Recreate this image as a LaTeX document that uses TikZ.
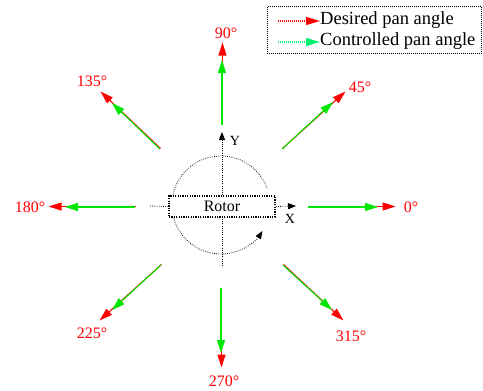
\documentclass[tikz,border=0pt]{standalone}
\usepackage{fontspec}
\setmainfont{Liberation Serif}
\usetikzlibrary{arrows.meta}
\definecolor{desred}{RGB}{255,0,0}
\definecolor{ctlgreen}{RGB}{0,230,0}
\definecolor{leggreen}{RGB}{0,240,110}
\begin{document}
\begin{tikzpicture}[x=1pt,y=-1pt,
  des/.style={draw=desred, line width=1.1pt, -{Triangle[length=13pt,width=8pt]}},
  ctl/.style={draw=ctlgreen, line width=1.1pt, -{Triangle[length=13pt,width=8pt]}},
  lbl/.style={text=desred, font=\fontsize{16}{18}\selectfont, inner sep=0pt},
  axline/.style={dash pattern=on 0.8pt off 1.4pt, line width=0.8pt},
  axarrow/.style={axline, -{Triangle[length=8pt,width=6pt]}},
  legtext/.style={font=\fontsize{18.5}{20}\selectfont, anchor=west, inner sep=0pt},
  axlbl/.style={font=\fontsize{14}{16}\selectfont, inner sep=0pt}
]
\useasboundingbox (0,0) rectangle (483,391);

% axes and rotation arc
\coordinate (xl) at (150,206);
\coordinate (xr) at (296,206);
\coordinate (yt) at (222,132);
\coordinate (yb) at (222,266);
\coordinate (arcs) at (267,188.2);
\draw[axarrow] (arcs) arc[start angle=-20, end angle=-328, radius=49];
\node[draw, line width=1.6pt, dash pattern=on 1.2pt off 1.2pt, fill=white, minimum width=106pt, minimum height=21pt, inner sep=0pt,
      font=\fontsize{16}{18}\selectfont] (rotor) at (222,206.5) {Rotor};
\draw[axline] (xl) -- (rotor.west);
\draw[axarrow] (rotor.east) -- (xr);
\draw[axline] (yb) -- (rotor.south);
\draw[axarrow] (rotor.north) -- (yt);
\node[axlbl] (ylbl) at (235,141) {Y};
\node[axlbl] (xlbl) at (290,219) {X};

% rays: start, red tip, green tip
\foreach \n/\sx/\sy/\rx/\ry/\gx/\gy in {
  a/308/207/395/207/378/207,
  b/282/149/345/92/333/102,
  c/222/125/222/43/222/60,
  d/160/149/100/92/112/103,
  e/135/207/48/207/65/207,
  f/161/265/99/321/112/310,
  g/221/288/221/368/221/353,
  h/283/265/343/321/332/310}{
  \coordinate (s\n) at (\sx,\sy);
  \coordinate (r\n) at (\rx,\ry);
  \coordinate (g\n) at (\gx,\gy);
  \draw[des, transform canvas={xshift=0.5pt,yshift=0.5pt}] (s\n) -- (r\n);
  \draw[ctl] (s\n) -- (g\n);
}
\node[lbl] (l0) at (411,207) {0°};
\node[lbl] (l45) at (360,87) {45°};
\node[lbl] (l90) at (226,33) {90°};
\node[lbl] (l135) at (92,81) {135°};
\node[lbl] (l180) at (30,207) {180°};
\node[lbl] (l225) at (92,333) {225°};
\node[lbl] (l270) at (224,381) {270°};
\node[lbl] (l315) at (351,336) {315°};

% legend
\node[draw, dash pattern=on 0.8pt off 1.2pt, line width=0.8pt, minimum width=214pt, minimum height=47pt, inner sep=0pt, anchor=north west] (legend) at (267,6) {};
\coordinate (l1a) at (278,21);
\coordinate (l1b) at (320,21);
\coordinate (l2a) at (278,42);
\coordinate (l2b) at (320,42);
\draw[draw=desred, dash pattern=on 1pt off 1pt, line width=1.3pt, -{Triangle[length=14pt,width=8pt]}] (l1a) -- (l1b);
\draw[draw=leggreen, dash pattern=on 1pt off 1pt, line width=1.3pt, -{Triangle[length=14pt,width=8pt]}] (l2a) -- (l2b);
\node[legtext] (t1) at (320,20) {Desired pan angle};
\node[legtext] (t2) at (320,41) {Controlled pan angle};
\end{tikzpicture}
\end{document}
